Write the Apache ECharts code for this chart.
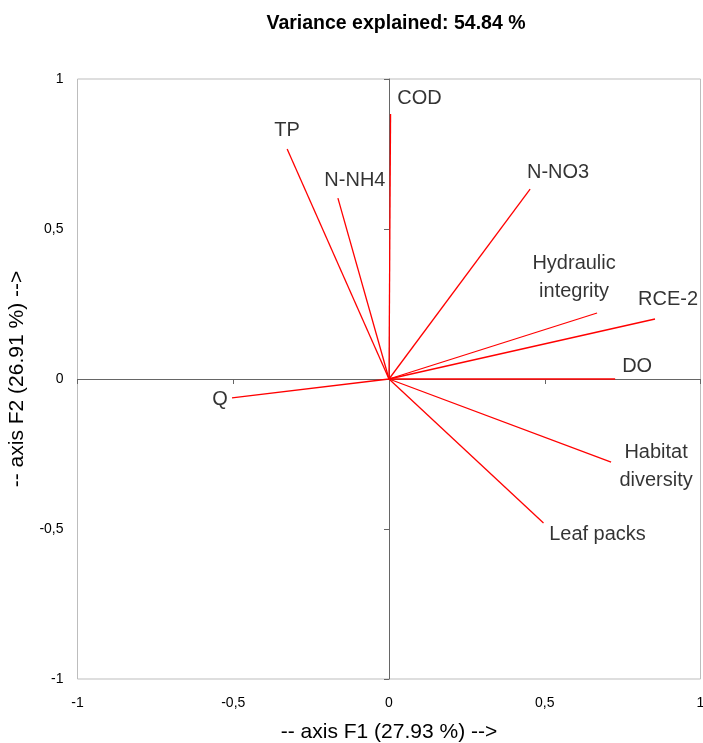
<!DOCTYPE html>
<html>
<head>
<meta charset="utf-8">
<script src="https://cdn.jsdelivr.net/npm/echarts@6/dist/echarts.min.js"></script>
<style>
  html, body { margin: 0; padding: 0; background: #fff; overflow: hidden; }
  #chart { width: 703px; height: 743px; }
</style>
</head>
<body>
<div id="chart"></div>
<script>
// Correlation circle: variable loadings on factors F1 and F2
const variables = ['COD', 'TP', 'N-NH4', 'N-NO3', 'Hydraulic\nintegrity', 'RCE-2', 'DO', 'Habitat\ndiversity', 'Leaf packs', 'Q'];
const loadingF1 = [0.005, -0.327, -0.164, 0.453, 0.668, 0.854, 0.726, 0.713, 0.496, -0.504];
const loadingF2 = [0.883, 0.767, 0.603, 0.633, 0.220, 0.200, 0.000, -0.277, -0.480, -0.063];

// label placement relative to each vector tip (px)
const labelOffsets = [[29, -16], [0, -18], [17, -18], [28, -17], [-23, -36], [13, -20], [22, -13], [45, 4], [54, 11], [-12, 2]];

const FONT = '"Liberation Sans", Arial, Helvetica, sans-serif';
const fmtTick = v => String(v).replace('.', ',');

const vectorSeries = variables.map((name, i) => ({
  type: 'line',
  name: name,
  data: [[0, 0], [loadingF1[i], loadingF2[i]]],
  showSymbol: false,
  symbol: 'none',
  lineStyle: { color: '#ff0000', width: 1.3 },
  silent: true,
  z: 5
}));

const labelSeries = {
  type: 'scatter',
  symbolSize: 0,
  silent: true,
  z: 6,
  data: variables.map((name, i) => ({
    value: [loadingF1[i], loadingF2[i]],
    label: {
      show: true,
      formatter: name,
      position: 'inside',
      offset: labelOffsets[i],
      align: 'center',
      verticalAlign: 'middle',
      color: '#000',
      fontFamily: FONT,
      fontSize: 20,
      lineHeight: 28
    }
  }))
};

const chart = echarts.init(document.getElementById('chart'), null, { renderer: 'canvas' });
chart.setOption({
  animation: false,
  backgroundColor: '#ffffff',
  title: {
    text: 'Variance explained: 54.84 %',
    left: 391,
    top: 9,
    textAlign: 'center',
    textStyle: { fontFamily: FONT, fontSize: 19.5, fontWeight: 'bold', color: '#000' }
  },
  grid: {
    left: 77.5, top: 79, width: 623, height: 600,
    containLabel: false, outerBoundsMode: 'none',
    show: true, borderColor: '#bdbdbd', borderWidth: 1, backgroundColor: 'transparent'
  },
  xAxis: [
    {
      type: 'value', min: -1, max: 1, interval: 0.5, position: 'bottom',
      axisLine: { show: false, onZero: false }, axisTick: { show: false }, splitLine: { show: false },
      axisLabel: { formatter: fmtTick, fontFamily: FONT, fontSize: 14, color: '#000', margin: 17, hideOverlap: false },
      name: '-- axis F1 (27.93 %) -->', nameLocation: 'middle', nameGap: 43,
      nameTextStyle: { fontFamily: FONT, fontSize: 21, color: '#000' }
    },
    {
      type: 'value', min: -1, max: 1, interval: 0.5, gridIndex: 0, position: 'bottom',
      axisLine: { show: true, onZero: true, onZeroAxisIndex: 0, lineStyle: { color: '#666', width: 1 } },
      axisTick: { show: true, length: 5, lineStyle: { color: '#666' } },
      axisLabel: { show: false }, splitLine: { show: false }
    }
  ],
  yAxis: [
    {
      type: 'value', min: -1, max: 1, interval: 0.5, position: 'left',
      axisLine: { show: false, onZero: false }, axisTick: { show: false }, splitLine: { show: false },
      axisLabel: { formatter: fmtTick, fontFamily: FONT, fontSize: 14, color: '#000', margin: 14 },
      name: '-- axis F2 (26.91 %) -->', nameLocation: 'middle', nameGap: 50,
      nameTextStyle: { fontFamily: FONT, fontSize: 21, color: '#000' }
    },
    {
      type: 'value', min: -1, max: 1, interval: 0.5, gridIndex: 0, position: 'left',
      axisLine: { show: true, onZero: true, onZeroAxisIndex: 0, lineStyle: { color: '#666', width: 1 } },
      axisTick: { show: true, length: 5, lineStyle: { color: '#666' } },
      axisLabel: { show: false }, splitLine: { show: false }
    }
  ],
  series: vectorSeries.concat([labelSeries])
});
</script>
</body>
</html>
